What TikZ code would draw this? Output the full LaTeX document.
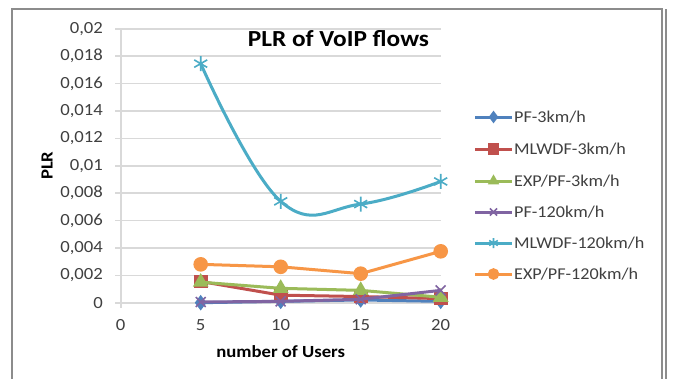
\documentclass[tikz,border=0pt]{standalone}
\usepackage{fontspec}
\setmainfont[FakeStretch=1.1]{Carlito}
\usetikzlibrary{plotmarks}
\definecolor{pfblue}{HTML}{4F81BD}
\definecolor{mlred}{HTML}{C0504D}
\definecolor{expgreen}{HTML}{9BBB59}
\definecolor{pfpurple}{HTML}{8064A2}
\definecolor{mlcyan}{HTML}{4BACC6}
\definecolor{exporange}{HTML}{F79646}
\tikzset{
  gridline/.style={line width=1.6pt, color=black!15},
  ticklabel/.style={font=\fontsize{17}{17}\selectfont, text=black!75, inner sep=0pt},
  axistitle/.style={font=\bfseries\fontsize{17}{17}\selectfont, inner sep=0pt},
  legendtext/.style={font=\fontsize{16.5}{17}\selectfont, text=black!75, anchor=west, inner sep=0pt},
  series/.style={line width=3pt, color=#1, mark options={solid, fill=#1, draw=#1, line width=1.6pt}}
}
\begin{document}
\begin{tikzpicture}[x=1pt, y=-1pt]
			%%%%% START %%%%%
			\useasboundingbox[fill=white] (0, 0) rectangle (676, 378);
			
			% frame
			\draw[line width=2pt, color=black!45] (12, 380) -- (12, 9) -- (662, 9) -- (662, 380);
			\draw[line width=1.5pt, color=black!45] (666, 9) -- (666, 380);
			
			\node[font=\bfseries\fontsize{23}{23}\selectfont, inner sep=0pt] (title) at (338.5, 39) {PLR of VoIP flows};
			
			\begin{scope}[shift={(120.7, 302.7)}, x=16pt, y=13.7pt]
			% grid and axes
			\foreach \v/\t in {0/0, 2/{0,002}, 4/{0,004}, 6/{0,006}, 8/{0,008}, 10/{0,01}, 12/{0,012}, 14/{0,014}, 16/{0,016}, 18/{0,018}, 20/{0,02}}{
				\draw[gridline] (-0.35, \v) -- (20, \v);
				\node[ticklabel, anchor=east] (y\v) at (-1.1, \v) {\t};
			}
			\draw[gridline] (0, 20) -- (0, -0.4);
			\foreach \u in {0, 5, 10, 15, 20}
				\node[ticklabel] (x\u) at (\u, -1.65) {\u};
			
			\node[axistitle] (xtitle) at (10, -3.6) {number of Users};
			\node[axistitle, rotate=90] (ytitle) at (-4.6, 10) {PLR};
			
			% series
			\draw[series=pfblue] plot[mark=diamond*, mark size=6.5pt] coordinates {(5, 0) (10, 0.1) (15, 0.2) (20, 0.1)};
			\draw[series=mlred] plot[mark=square*, mark size=6pt] coordinates {(5, 1.55) (10, 0.55) (15, 0.45) (20, 0.3)};
			\draw[series=expgreen] plot[mark=triangle*, mark size=7.5pt] coordinates {(5, 1.5) (10, 1.05) (15, 0.9) (20, 0.4)};
			\draw[series=pfpurple] plot[mark=x, mark size=7pt] coordinates {(5, 0.05) (10, 0.1) (15, 0.25) (20, 0.9)};
			\draw[series=mlcyan] plot[smooth, tension=0.7, mark=asterisk, mark size=7.5pt] coordinates {(5, 17.45) (10, 7.4) (15, 7.2) (20, 8.85)};
			\draw[series=exporange] plot[mark=*, mark size=6.5pt] coordinates {(5, 2.8) (10, 2.62) (15, 2.12) (20, 3.75)};
			\end{scope}
			
			% legend
			\foreach \y/\c/\m/\t [count=\i] in {117/pfblue/diamond*/PF-3km\slash h, 149/mlred/square*/MLWDF-3km\slash h, 181/expgreen/triangle*/EXP\slash PF-3km\slash h, 212/pfpurple/x/PF-120km\slash h, 243/mlcyan/asterisk/MLWDF-120km\slash h, 274/exporange/*/EXP\slash PF-120km\slash h}{
				\draw[series=\c] plot[mark=\m, mark size=5pt, mark indices={2}] coordinates {(475, \y) (493.5, \y) (512, \y)};
				\node[legendtext] (leg\i) at (514, \y) {\t};
			}
			%%%%% END %%%%%
\end{tikzpicture}
\end{document}
